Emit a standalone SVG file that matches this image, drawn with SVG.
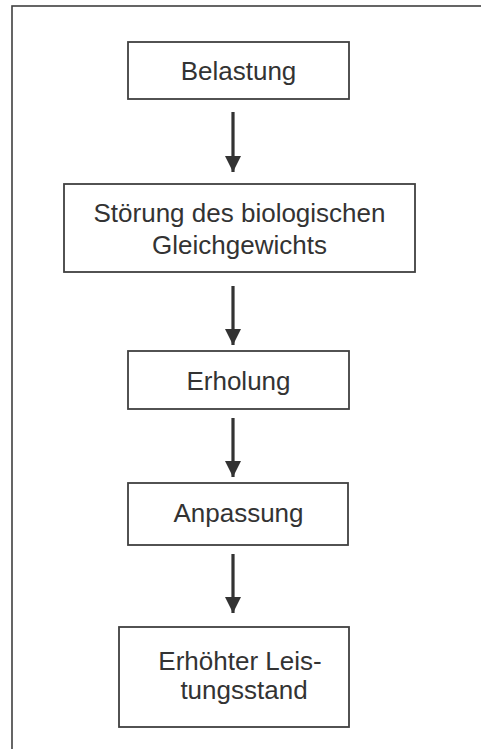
<svg xmlns="http://www.w3.org/2000/svg" width="481" height="749" viewBox="0 0 481 749">
<defs>
<style>
.box{fill:#fff;stroke:#404040;stroke-width:1.8}
.t{font-family:"Liberation Sans",Arial,sans-serif;font-size:26px;fill:#333;text-anchor:middle}
.sh{stroke:#333;stroke-width:3.2;fill:none}
</style>
<marker id="ah" markerUnits="userSpaceOnUse" markerWidth="16" markerHeight="17" refX="16" refY="8" orient="auto" viewBox="0 0 16 16">
<path d="M0,0 L16,8 L0,16 Z" fill="#333"/>
</marker>
</defs>
<rect width="481" height="749" fill="#fff"/>
<rect id="frame" x="12" y="6" width="480" height="760" fill="none" stroke="#404040" stroke-width="1.6"/>
<g id="connectors">
<line class="sh" x1="233" y1="112" x2="233" y2="172" marker-end="url(#ah)"/>
<line class="sh" x1="233" y1="286" x2="233" y2="345" marker-end="url(#ah)"/>
<line class="sh" x1="233" y1="418" x2="233" y2="477" marker-end="url(#ah)"/>
<line class="sh" x1="233" y1="554" x2="233" y2="613" marker-end="url(#ah)"/>
</g>
<g id="n1">
<rect class="box" x="128" y="42" width="221" height="57"/>
<text class="t" x="238.5" y="80">Belastung</text>
</g>
<g id="n2">
<rect class="box" x="64" y="184" width="351" height="88"/>
<text class="t" x="239.5" y="222">Störung des biologischen</text>
<text class="t" x="239.5" y="254">Gleichgewichts</text>
</g>
<g id="n3">
<rect class="box" x="128" y="351" width="221" height="58"/>
<text class="t" x="238.5" y="390">Erholung</text>
</g>
<g id="n4">
<rect class="box" x="128" y="483" width="220" height="62"/>
<text class="t" x="238.5" y="522">Anpassung</text>
</g>
<g id="n5">
<rect class="box" x="119" y="627" width="230" height="100"/>
<text class="t" x="240" y="670">Erhöhter Leis-</text>
<text class="t" x="244" y="699">tungsstand</text>
</g>
</svg>
